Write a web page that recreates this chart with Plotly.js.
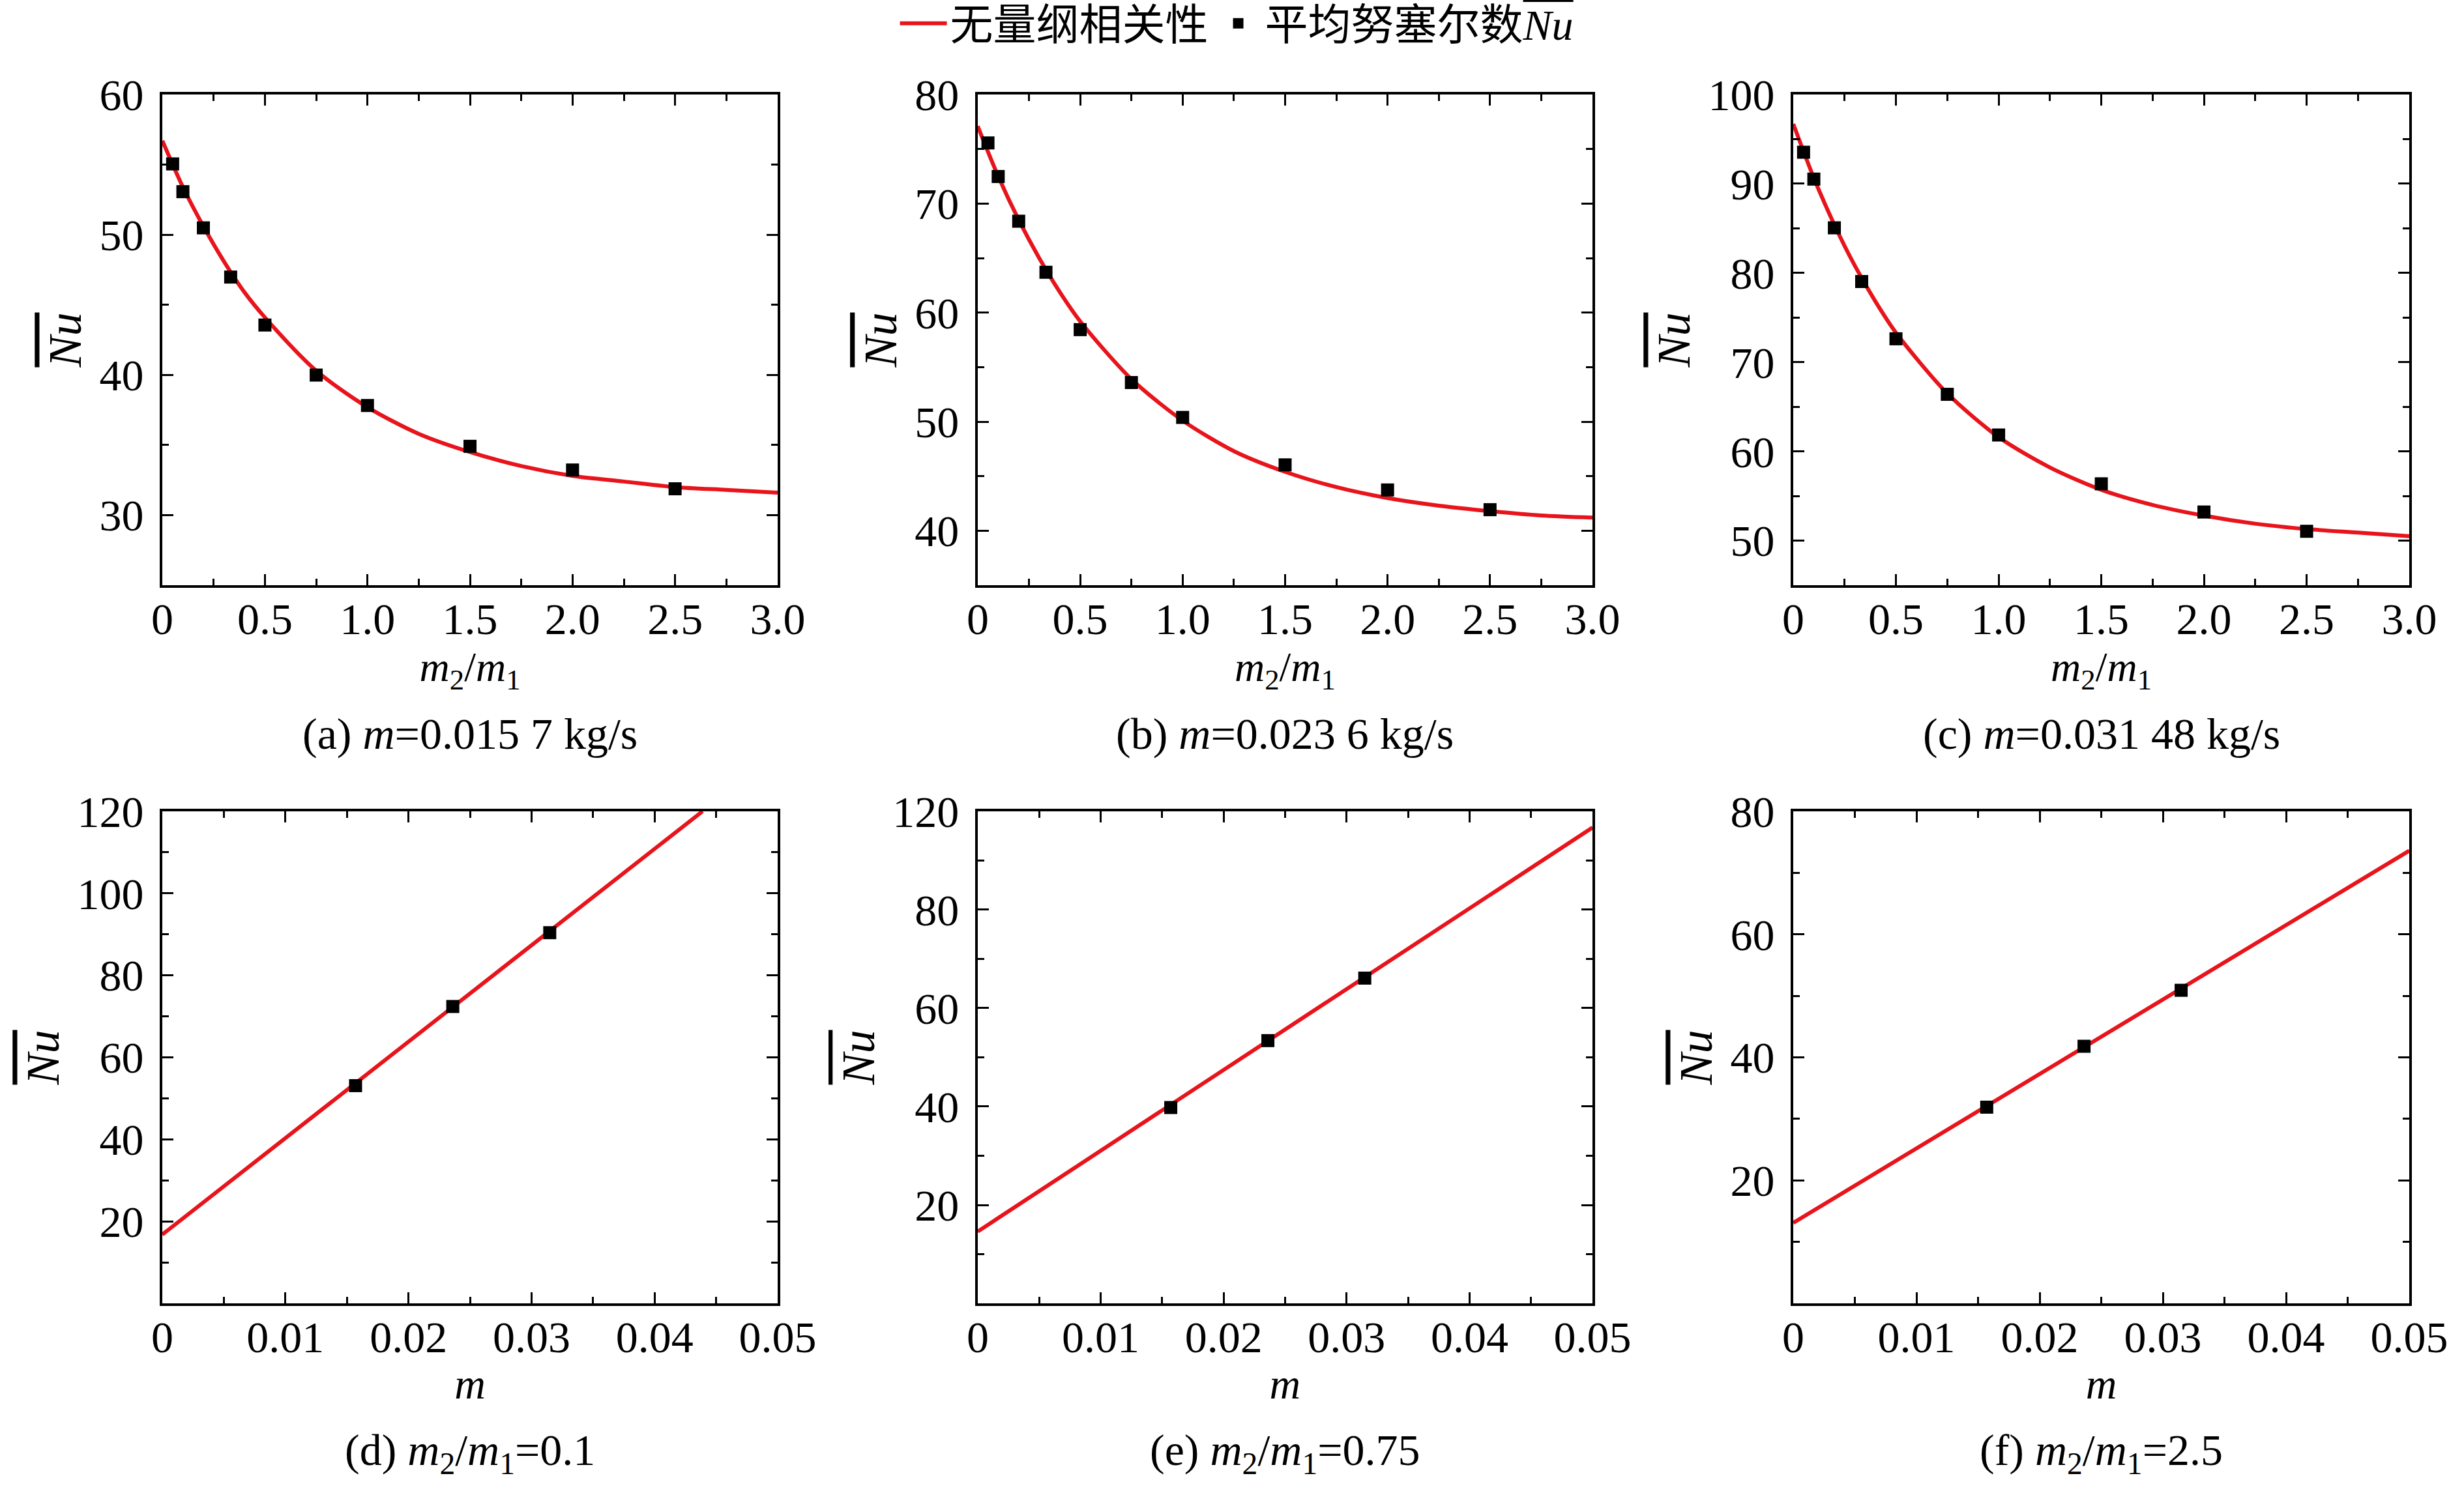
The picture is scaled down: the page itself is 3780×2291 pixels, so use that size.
<!DOCTYPE html>
<html><head><meta charset="utf-8">
<script src="https://cdn.plot.ly/plotly-3.0.1.min.js"></script>
<style>html,body{margin:0;padding:0;background:#fff}</style>
</head><body>
<div id="chart" style="width:3780px;height:2291px"></div>
<script>
// ---- data ----
const ratioPts = [0.05, 0.1, 0.2, 0.333, 0.5, 0.75, 1.0, 1.5, 2.0, 2.5];
const nuA = [55.05, 53.07, 50.49, 46.98, 43.56, 39.99, 37.82, 34.91, 33.22, 31.88];
const nuB = [75.56, 72.48, 68.38, 63.70, 58.44, 53.59, 50.39, 46.04, 43.74, 41.93];
const nuC = [93.53, 90.52, 85.06, 79.04, 72.62, 66.40, 61.84, 56.37, 53.21, 51.05];

const ratioCurve = [0, 0.1, 0.2, 0.3, 0.4, 0.5, 0.75, 1.0, 1.25, 1.5, 1.75, 2.0, 2.25, 2.5, 2.75, 3.0];
const fitA = [56.7, 53.4, 50.6, 48.1, 45.9, 44.1, 40.3, 37.7, 35.8, 34.5, 33.5, 32.8, 32.4, 32.0, 31.8, 31.6];
const fitB = [77.1, 72.5, 68.5, 65.0, 61.9, 59.2, 53.9, 50.1, 47.3, 45.4, 44.0, 43.0, 42.3, 41.8, 41.4, 41.2];
const fitC = [96.7, 90.65, 85.4, 80.8, 76.8, 73.3, 66.5, 61.6, 58.2, 55.7, 54.0, 52.8, 51.9, 51.3, 50.9, 50.5];

const massPts = [0.0157, 0.0236, 0.03148];
const nuD = [53.1, 72.4, 90.4];
const nuE = [39.8, 53.4, 66.1];
const nuF = [31.9, 41.8, 50.9];

const lineXD = [0, 0.0439];
const fitD = [16.8, 120];
const lineXE = [0, 0.05];
const fitE = [14.6, 96.7];
const lineXF = [0, 0.05];
const fitF = [13.1, 73.6];

const ratioTicks = [0, 0.5, 1.0, 1.5, 2.0, 2.5, 3.0];
const ratioTickText = ['0', '0.5', '1.0', '1.5', '2.0', '2.5', '3.0'];
const massTicks = [0, 0.01, 0.02, 0.03, 0.04, 0.05];
const massTickText = ['0', '0.01', '0.02', '0.03', '0.04', '0.05'];
const yTicksA = [30, 40, 50, 60];
const yTicksB = [40, 50, 60, 70, 80];
const yTicksC = [50, 60, 70, 80, 90, 100];
const yTicksD = [20, 40, 60, 80, 100, 120];
const yTicksE = [20, 40, 60, 80, 100];
const yTickTextE = ['20', '40', '60', '80', '120'];
const yTicksF = [20, 40, 60, 80];

const captions = [
  '(a) <i>m</i>=0.015 7 kg/s',
  '(b) <i>m</i>=0.023 6 kg/s',
  '(c) <i>m</i>=0.031 48 kg/s',
  '(d) <i>m</i><sub>2</sub>/<i>m</i><sub>1</sub>=0.1',
  '(e) <i>m</i><sub>2</sub>/<i>m</i><sub>1</sub>=0.75',
  '(f) <i>m</i><sub>2</sub>/<i>m</i><sub>1</sub>=2.5'
];
const lineName = '无量纲相关性';
const pointName = '平均努塞尔数<span style="text-decoration:overline"><i>Nu</i></span>';

// ---- styling ----
const FONT = "'Liberation Serif', 'Times New Roman', 'Noto Sans CJK SC', serif";
const RED = '#e8141c';
const colDom = [[0.0659, 0.3156], [0.3968, 0.6463], [0.7278, 0.9778]];
const rowDom = [[0.6080, 0.9367], [0.1270, 0.4566]];

function lineTrace(x, y, i, show) {
  return {x: x, y: y, type: 'scatter', mode: 'lines', name: lineName,
    line: {color: RED, width: 6, shape: 'spline', smoothing: 0.8},
    xaxis: 'x' + (i === 1 ? '' : i), yaxis: 'y' + (i === 1 ? '' : i),
    showlegend: show, legendrank: 1};
}
function ptTrace(x, y, i, show) {
  return {x: x, y: y, type: 'scatter', mode: 'markers', name: pointName,
    marker: {symbol: 'square', color: '#000', size: 20},
    xaxis: 'x' + (i === 1 ? '' : i), yaxis: 'y' + (i === 1 ? '' : i),
    showlegend: show, legendrank: 2};
}

const data = [
  lineTrace(ratioCurve, fitA, 1, true), ptTrace(ratioPts, nuA, 1, true),
  lineTrace(ratioCurve, fitB, 2, false), ptTrace(ratioPts, nuB, 2, false),
  lineTrace(ratioCurve, fitC, 3, false), ptTrace(ratioPts, nuC, 3, false),
  lineTrace(lineXD, fitD, 4, false), ptTrace(massPts, nuD, 4, false),
  lineTrace(lineXE, fitE, 5, false), ptTrace(massPts, nuE, 5, false),
  lineTrace(lineXF, fitF, 6, false), ptTrace(massPts, nuF, 6, false)
];

function axBase() {
  return {showline: true, linecolor: '#000', linewidth: 4, mirror: 'allticks',
    ticks: 'inside', ticklen: 17, tickwidth: 3, tickcolor: '#000',
    showgrid: false, zeroline: false, fixedrange: true,
    tickfont: {family: FONT, size: 68, color: '#000'},
    tickmode: 'array'};
}
function xAx(i, isRatio) {
  const a = axBase();
  const c = (i - 1) % 3;
  a.domain = colDom[c];
  a.anchor = 'y' + (i === 1 ? '' : i);
  a.ticklabelstandoff = -11;
  if (isRatio) {
    a.range = [0, 3]; a.tickvals = ratioTicks; a.ticktext = ratioTickText;
    a.minor = {dtick: 0.25, tick0: 0, ticks: 'inside', ticklen: 10, tickwidth: 3, tickcolor: '#000', showgrid: false};
    a.title = {text: '<i>m</i><sub>2</sub>/<i>m</i><sub>1</sub>', font: {family: FONT, size: 64, color: '#000'}, standoff: 0};
  } else {
    a.range = [0, 0.05]; a.tickvals = massTicks; a.ticktext = massTickText;
    a.minor = {dtick: 0.005, tick0: 0, ticks: 'inside', ticklen: 10, tickwidth: 3, tickcolor: '#000', showgrid: false};
    a.title = {text: '<i>m</i>', font: {family: FONT, size: 66, color: '#000'}, standoff: 12};
  }
  return a;
}
function yAx(i, range, vals, text, minorStep) {
  const a = axBase();
  const r = i <= 3 ? 0 : 1;
  a.domain = rowDom[r];
  a.anchor = 'x' + (i === 1 ? '' : i);
  a.range = range; a.tickvals = vals; a.ticktext = text || vals.map(String);
  a.ticklabelstandoff = 11;
  a.minor = {dtick: minorStep, tick0: 0, ticks: 'inside', ticklen: 10, tickwidth: 3, tickcolor: '#000', showgrid: false};
  a.title = {text: '<span style="text-decoration:overline"><i>Nu</i></span>', font: {family: FONT, size: 72, color: '#000'}, standoff: 5};
  return a;
}

const annotations = captions.map(function (t, k) {
  const c = k % 3, r = k < 3 ? 0 : 1;
  return {text: t, xref: 'paper', yref: 'paper', showarrow: false,
    x: (colDom[c][0] + colDom[c][1]) / 2, y: r === 0 ? 0.5085 : 0.0268,
    xanchor: 'center', yanchor: 'middle',
    font: {family: FONT, size: 68, color: '#000'}};
});

const layout = {
  width: 3780, height: 2291,
  margin: {l: 0, r: 0, t: 0, b: 0, autoexpand: false},
  paper_bgcolor: '#fff', plot_bgcolor: '#fff',
  font: {family: FONT, size: 62, color: '#000'},
  showlegend: true,
  legend: {orientation: 'h', x: 0.502, xanchor: 'center', y: 1.006, yanchor: 'top',
    bgcolor: 'rgba(0,0,0,0)', font: {family: FONT, size: 66, color: '#000'},
    traceorder: 'normal', itemwidth: 72},
  xaxis: xAx(1, true), xaxis2: xAx(2, true), xaxis3: xAx(3, true),
  xaxis4: xAx(4, false), xaxis5: xAx(5, false), xaxis6: xAx(6, false),
  yaxis: yAx(1, [25, 60], yTicksA, null, 5),
  yaxis2: yAx(2, [35, 80], yTicksB, null, 5),
  yaxis3: yAx(3, [45, 100], yTicksC, null, 5),
  yaxis4: yAx(4, [0, 120], yTicksD, null, 10),
  yaxis5: yAx(5, [0, 100], yTicksE, yTickTextE, 10),
  yaxis6: yAx(6, [0, 80], yTicksF, null, 10),
  annotations: annotations
};

Plotly.newPlot('chart', data, layout, {staticPlot: true, displayModeBar: false});
</script>
</body></html>
